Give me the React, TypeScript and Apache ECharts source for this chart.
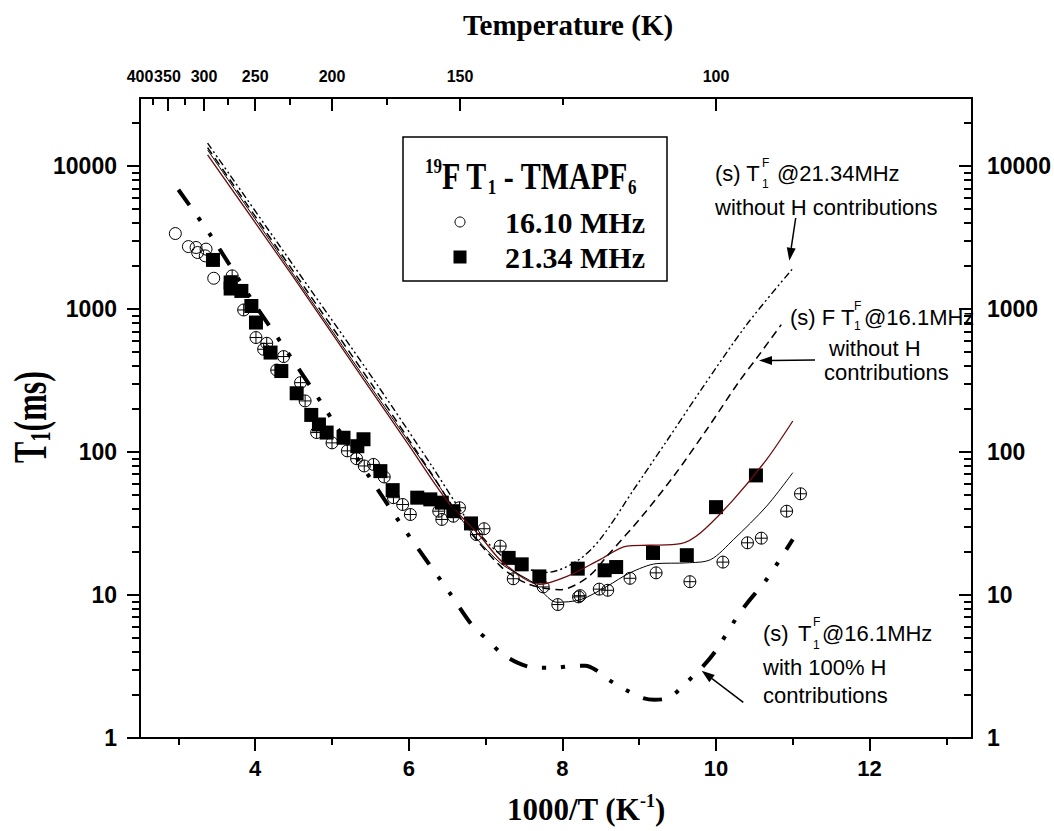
import React, { useEffect, useRef } from "react";
import * as echarts from "echarts";

// ---------- axes ----------
const X_MIN = 1000 / 400; // 400 K
const X_MAX = 1000 / 75; // 75 K
const Y_MIN = 1;
const Y_MAX = 30000;
const bottomMajorTicks = [4, 6, 8, 10, 12];
const bottomMinorTicks = [3, 5, 7, 9, 11, 13];
const topMajorTemps = [400, 350, 300, 250, 200, 150, 100];
const topMinorTemps = [375, 325, 275, 225, 175, 125];
const yMajorTicks = [1, 10, 100, 1000, 10000];
const yMinorTicks = [
  2, 3, 4, 5, 6, 7, 8, 9, 20, 30, 40, 50, 60, 70, 80, 90, 200, 300, 400, 500, 600, 700, 800, 900,
  2000, 3000, 4000, 5000, 6000, 7000, 8000, 9000, 20000,
];

// ---------- data: 16.10 MHz (open circles) ----------
const circX = [
  2.96, 3.13, 3.23, 3.25, 3.36, 3.35, 3.46, 3.7, 3.85, 4.01, 4.15, 4.11, 4.37, 4.28, 4.59, 4.65, 4.8, 5.0,
  5.2, 5.32, 5.42, 5.54, 5.68, 5.8, 5.92, 6.02, 6.39, 6.43, 6.58, 6.66, 6.88, 6.98, 7.19, 7.36, 7.75, 7.94,
  8.21, 8.23, 8.48, 8.59, 8.88, 9.22, 9.66, 10.09, 10.41, 10.59, 10.92, 11.1,
];
const circY = [
  3380, 2740, 2700, 2490, 2630, 2360, 1645, 1710, 987, 633, 577, 524, 466, 375, 306, 228, 137, 116, 102, 90,
  80, 82, 67, 48, 43, 36.6, 38.6, 33.8, 35.6, 40.8, 26.5, 29.1, 22.0, 13.0, 11.4, 8.58, 9.71, 9.9, 11.0,
  10.8, 13.1, 14.3, 12.4, 17.0, 23.2, 25.0, 38.6, 51.1,
];

// ---------- data: 21.34 MHz (filled squares) ----------
const sqX = [
  3.45, 3.68, 3.68, 3.82, 3.95, 4.01, 4.2, 4.34, 4.54, 4.73, 4.83, 4.93, 5.15, 5.33, 5.41, 5.63, 5.79, 6.11,
  6.28, 6.43, 6.58, 6.81, 7.3, 7.47, 7.7, 8.2, 8.55, 8.7, 9.18, 9.62, 10.0, 10.52,
];
const sqY = [
  2210, 1535, 1394, 1341, 1052, 806, 497, 369, 258, 182, 156, 137, 126, 110, 123, 73.6, 54.2, 48.0, 46.7,
  44.3, 38.6, 31.7, 18.2, 16.4, 13.5, 15.3, 14.9, 15.7, 19.7, 19.0, 41.2, 68.7,
];

// ---------- model curves ----------
// fit 21.34 MHz (brown solid)
const fit21X = [3.38, 4.5, 5.41, 6.0, 6.5, 6.93, 7.23, 7.71, 8.06, 8.49, 8.84, 9.14, 9.54, 9.8, 10.23, 10.66, 11.0];
const fit21Y = [12000, 1667, 323, 112, 45.6, 25.8, 16.8, 11.9, 13.5, 17.7, 22.0, 22.3, 22.9, 27.3, 46.7, 88.9, 165];
// fit 16.10 MHz (black solid)
const fit16X = [3.38, 4.5, 5.5, 6.3, 6.76, 7.19, 7.62, 7.93, 8.24, 8.58, 8.88, 9.23, 9.62, 9.93, 10.23, 10.66, 11.0];
const fit16Y = [13000, 1738, 288, 69, 30, 16.8, 12.2, 8.9, 9.3, 11.5, 14.3, 16.6, 16.8, 17.7, 24.5, 41.9, 71.8];
// 21.34 MHz without H contributions (dash-dot-dot)
const noH21X = [3.38, 4.5, 5.54, 6.3, 6.76, 7.2, 7.5, 7.8, 8.19, 8.49, 8.93, 9.36, 9.8, 10.4, 11.0];
const noH21Y = [14500, 2014, 323, 80, 33.8, 19, 15.5, 14.4, 17.3, 24.5, 54.8, 120, 270, 780, 1925];
// 16.1 MHz without H contributions (dashed)
const noH16X = [3.38, 4.5, 5.54, 6.3, 6.76, 7.2, 7.5, 7.75, 7.97, 8.32, 8.62, 9.02, 9.45, 9.88, 10.29, 10.55, 10.85];
const noH16Y = [13500, 1828, 286, 70, 29.5, 15.8, 12.3, 11.2, 10.9, 13.2, 19.8, 34.7, 67.9, 144, 306, 470, 780];
// 16.1 MHz with 100% H contributions (thick dash-dot)
const withH16X = [
  3.0, 3.43, 3.95, 4.35, 4.89, 5.04, 5.56, 5.97, 6.53, 6.84, 7.02, 7.2, 7.42, 7.65, 7.9, 8.15, 8.3, 8.43, 8.6,
  8.82, 9.04, 9.2, 9.4, 9.61, 9.83, 10.0, 10.25, 10.4, 10.66, 11.0,
];
const withH16Y = [
  6840, 3220, 1173, 568, 210, 156, 58.5, 27.5, 10.4, 6.0, 4.9, 3.94, 3.35, 3.1, 3.1, 3.2, 3.2, 3.0, 2.56, 2.18,
  1.91, 1.85, 1.93, 2.43, 3.17, 4.1, 6.7, 8.7, 12.9, 24.5,
];

const SANS = "'Liberation Sans', Arial, Helvetica, sans-serif";
const SERIF = "'Liberation Serif', 'Times New Roman', Times, serif";

const CIRCLE = "path://M10,0A10,10,0,1,1,10,20A10,10,0,1,1,10,0Z";
const CIRCLE_PLUS = "path://M10,0A10,10,0,1,1,10,20A10,10,0,1,1,10,0ZM10,0L10,20M0,10L20,10";

const zip = (xs: number[], ys: number[]) => xs.map((x, i) => [x, ys[i]]);

function txt(text: string, x: number, y: number, size = 22, align = "left", font = SANS, weight = "normal") {
  return {
    type: "text",
    x,
    y,
    z: 100,
    silent: true,
    style: { text, fontSize: size, fontFamily: font, fontWeight: weight, fill: "#000", align, verticalAlign: "middle" },
  };
}

function arrow(x1: number, y1: number, x2: number, y2: number) {
  const ang = Math.atan2(y2 - y1, x2 - x1);
  const L = 13;
  const W = 4.5;
  const bx = x2 - L * Math.cos(ang);
  const by = y2 - L * Math.sin(ang);
  const px = -Math.sin(ang) * W;
  const py = Math.cos(ang) * W;
  return [
    { type: "line", z: 100, silent: true, shape: { x1, y1, x2: bx, y2: by }, style: { stroke: "#000", lineWidth: 1.5 } },
    {
      type: "polygon",
      z: 100,
      silent: true,
      shape: { points: [[x2, y2], [bx + px, by + py], [bx - px, by - py]] },
      style: { fill: "#000" },
    },
  ];
}

function buildOption() {
  const tickStyle = { color: "#000", width: 2 };
  const lineStyleAxis = { color: "#000", width: 2 };
  const xBase = { type: "value", min: X_MIN, max: X_MAX, splitLine: { show: false } };
  const yBase = { type: "log", logBase: 10, min: Y_MIN, max: Y_MAX, splitLine: { show: false } };
  const topMajor = topMajorTemps.map((T) => 1000 / T);
  const topMinor = topMinorTemps.map((T) => 1000 / T);
  const labelCommon = { fontWeight: "bold", fontFamily: SANS, color: "#000", hideOverlap: false };

  const circleData = circX.map((x, i) => ({
    value: [x, circY[i]],
    symbol: x < 3.5 ? CIRCLE : CIRCLE_PLUS,
  }));

  const graphic: any[] = [
    // axis titles
    {
      type: "text",
      x: 568,
      y: 25,
      silent: true,
      style: { text: "Temperature (K)", fontSize: 29, fontWeight: "bold", fontFamily: SERIF, fill: "#000", align: "center", verticalAlign: "middle" },
    },
    {
      type: "text",
      x: 586,
      y: 809,
      silent: true,
      style: {
        text: "{b|1000/T (K}{s|-1}{b|)}",
        align: "center",
        verticalAlign: "middle",
        rich: {
          b: { fontSize: 31, fontWeight: "bold", fontFamily: SERIF, fill: "#000", lineHeight: 34 },
          s: { fontSize: 18, fontWeight: "bold", fontFamily: SERIF, fill: "#000", verticalAlign: "top", lineHeight: 18 },
        },
      },
    },
    {
      type: "text",
      x: 30,
      y: 417,
      rotation: Math.PI / 2,
      scaleY: 1.45,
      silent: true,
      style: {
        text: "{b|T}{s|1}{b|(ms)}",
        align: "center",
        verticalAlign: "middle",
        rich: {
          b: { fontSize: 32, fontWeight: "bold", fontFamily: SERIF, fill: "#000", lineHeight: 34 },
          s: { fontSize: 20, fontWeight: "bold", fontFamily: SERIF, fill: "#000", verticalAlign: "bottom", lineHeight: 20 },
        },
      },
    },
    // legend box
    { type: "rect", z: 90, silent: true, shape: { x: 403, y: 137, width: 264, height: 144 }, style: { fill: "#fff", stroke: "#000", lineWidth: 1.5 } },
    {
      type: "text",
      x: 425,
      y: 176,
      scaleY: 1.25,
      z: 100,
      silent: true,
      style: {
        text: "{p|19}{b|F T}{s|1}{b| - TMAPF}{s|6}",
        align: "left",
        verticalAlign: "middle",
        rich: {
          b: { fontSize: 30, fontWeight: "bold", fontFamily: SERIF, fill: "#000", lineHeight: 34 },
          p: { fontSize: 17, fontWeight: "bold", fontFamily: SERIF, fill: "#000", verticalAlign: "top", lineHeight: 17 },
          s: { fontSize: 17, fontWeight: "bold", fontFamily: SERIF, fill: "#000", verticalAlign: "bottom", lineHeight: 17 },
        },
      },
    },
    { type: "circle", z: 100, silent: true, shape: { cx: 460, cy: 222, r: 5 }, style: { fill: "#fff", stroke: "#000", lineWidth: 1 } },
    txt("16.10 MHz", 505, 222, 30, "left", SERIF, "bold"),
    { type: "rect", z: 100, silent: true, shape: { x: 453.5, y: 250.5, width: 13, height: 13 }, style: { fill: "#000" } },
    txt("21.34 MHz", 505, 257, 30, "left", SERIF, "bold"),

    // annotation 1
    txt("(s) T", 715, 173),
    txt("F", 762, 163, 12),
    txt("1", 762, 184, 12),
    txt("@21.34MHz", 777, 173),
    txt("without H contributions", 715, 207),
    ...arrow(795.7, 218, 789.3, 260.7),

    // annotation 2
    txt("(s) F T", 790, 317),
    txt("F", 854, 306, 12),
    txt("1", 854, 326, 12),
    txt("@16.1MHz", 864, 317),
    txt("without H", 829, 348),
    txt("contributions", 824, 372),
    ...arrow(815, 360, 759, 360.5),

    // annotation 3
    txt("(s)", 763, 633),
    txt("T", 798, 633),
    txt("F", 813, 622, 12),
    txt("1", 813, 645, 12),
    txt("@16.1MHz", 822, 633),
    txt("with 100% H", 763, 667),
    txt("contributions", 763, 695),
    ...arrow(743.3, 702.3, 701.7, 670.7),
  ];

  return {
    animation: false,
    backgroundColor: "#fff",
    grid: { left: 140, right: 82, top: 98, bottom: 93, containLabel: false, outerBoundsMode: "none" },
    xAxis: [
      {
        ...xBase,
        position: "bottom",
        axisLine: { show: true, onZero: false, lineStyle: lineStyleAxis },
        axisTick: { show: true, inside: false, length: 13, customValues: bottomMajorTicks, lineStyle: tickStyle },
        axisLabel: { show: true, customValues: bottomMajorTicks, margin: 19, fontSize: 22, ...labelCommon },
      },
      {
        ...xBase,
        position: "bottom",
        axisLine: { show: false, onZero: false },
        axisTick: { show: true, inside: false, length: 7, customValues: bottomMinorTicks, lineStyle: tickStyle },
        axisLabel: { show: false },
      },
      {
        ...xBase,
        position: "top",
        axisLine: { show: true, onZero: false, lineStyle: lineStyleAxis },
        axisTick: { show: true, inside: true, length: 13, customValues: topMajor, lineStyle: tickStyle },
        axisLabel: {
          show: true,
          customValues: topMajor,
          formatter: (v: number) => String(Math.round(1000 / v)),
          margin: 14,
          fontSize: 16,
          ...labelCommon,
        },
      },
      {
        ...xBase,
        position: "top",
        axisLine: { show: false, onZero: false },
        axisTick: { show: true, inside: true, length: 7, customValues: topMinor, lineStyle: tickStyle },
        axisLabel: { show: false },
      },
    ],
    yAxis: [
      {
        ...yBase,
        position: "left",
        axisLine: { show: true, onZero: false, lineStyle: lineStyleAxis },
        axisTick: { show: true, inside: false, length: 13, customValues: yMajorTicks, lineStyle: tickStyle },
        axisLabel: {
          show: true,
          customValues: yMajorTicks,
          formatter: (v: number) => String(Math.round(v)),
          margin: 23,
          fontSize: 23,
          ...labelCommon,
        },
      },
      {
        ...yBase,
        position: "left",
        axisLine: { show: false, onZero: false },
        axisTick: { show: true, inside: false, length: 8, customValues: yMinorTicks, lineStyle: tickStyle },
        axisLabel: { show: false },
      },
      {
        ...yBase,
        position: "right",
        axisLine: { show: true, onZero: false, lineStyle: lineStyleAxis },
        axisTick: { show: true, inside: true, length: 13, customValues: yMajorTicks, lineStyle: tickStyle },
        axisLabel: {
          show: true,
          customValues: yMajorTicks,
          formatter: (v: number) => String(Math.round(v)),
          margin: 15,
          fontSize: 23,
          ...labelCommon,
        },
      },
      {
        ...yBase,
        position: "right",
        axisLine: { show: false, onZero: false },
        axisTick: { show: true, inside: true, length: 8, customValues: yMinorTicks, lineStyle: tickStyle },
        axisLabel: { show: false },
      },
    ],
    series: [
      {
        type: "scatter",
        name: "16.10 MHz",
        data: circleData,
        symbolSize: 12,
        itemStyle: { color: "rgba(255,255,255,0)", borderColor: "#000", borderWidth: 1, opacity: 1 },
        z: 3,
      },
      {
        type: "scatter",
        name: "21.34 MHz",
        data: zip(sqX, sqY),
        symbol: "rect",
        symbolSize: 14,
        itemStyle: { color: "#000", opacity: 1 },
        z: 4,
      },
      {
        type: "line",
        name: "fit 21.34",
        data: zip(fit21X, fit21Y),
        symbol: "none",
        smooth: 0.3,
        lineStyle: { color: "#6e0a0a", width: 1.3 },
        z: 5,
      },
      {
        type: "line",
        name: "fit 16.10",
        data: zip(fit16X, fit16Y),
        symbol: "none",
        smooth: 0.3,
        lineStyle: { color: "#000", width: 1 },
        z: 5,
      },
      {
        type: "line",
        name: "21.34 without H",
        data: zip(noH21X, noH21Y),
        symbol: "none",
        smooth: 0.3,
        lineStyle: { color: "#000", width: 1.4, type: [7, 3, 2, 3, 2, 3] },
        z: 5,
      },
      {
        type: "line",
        name: "16.1 without H",
        data: zip(noH16X, noH16Y),
        symbol: "none",
        smooth: 0.3,
        lineStyle: { color: "#000", width: 1.5, type: [8, 5] },
        z: 5,
      },
      {
        type: "line",
        name: "16.1 with H",
        data: zip(withH16X, withH16Y),
        symbol: "none",
        smooth: 0.3,
        lineStyle: { color: "#000", width: 4, type: [19, 15, 4, 15, 4, 15] },
        z: 5,
      },
    ],
    graphic,
  };
}

export default function App() {
  const ref = useRef<HTMLDivElement>(null);
  useEffect(() => {
    if (!ref.current) return;
    const chart = echarts.init(ref.current, undefined, { renderer: "svg" });
    chart.setOption(buildOption() as any);
    return () => {
      chart.dispose();
    };
  }, []);
  return (
    <div
      ref={ref}
      style={{ position: "absolute", left: 0, top: 0, width: 1054, height: 831, background: "#fff" }}
    />
  );
}
